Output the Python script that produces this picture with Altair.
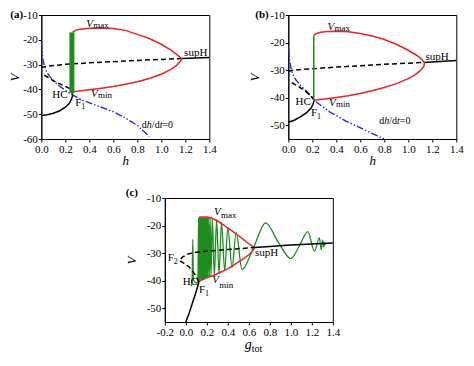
import altair as alt
import pandas as pd

SERIF = "Liberation Serif"
RED = "#e3242b"
BLUE = "#1f2bd1"
GREEN = "#1e8c1e"
BLACK = "#000000"

# ---------------- panel (a) ----------------
a_lower_h = [0.0, 0.05, 0.1, 0.15, 0.2, 0.23, 0.245, 0.255, 0.262]
a_lower_v = [-50.5, -50.2, -49.6, -48.7, -47.2, -45.8, -44.6, -43.4, -42.5]
a_mid_h = [0.262, 0.25, 0.2, 0.12, 0.05, 0.0]
a_mid_v = [-42.5, -40.0, -38.8, -37.0, -35.0, -33.5]
a_up_h = [0.0, 0.05, 0.2, 0.4, 0.6, 0.8, 1.0, 1.17]
a_up_v = [-31.2, -30.6, -29.9, -29.3, -28.8, -28.3, -27.9, -27.5]
a_st_h = [1.17, 1.4]
a_st_v = [-27.5, -27.1]
a_null_h = [0.0, 0.005, 0.012, 0.025, 0.05, 0.1, 0.16, 0.25, 0.35, 0.5, 0.6, 0.7, 0.8, 0.9]
a_null_v = [-21.0, -24.0, -27.5, -30.5, -33.5, -36.5, -39.0, -42.0, -44.5, -47.2, -49.0, -51.5, -54.5, -59.0]
a_red_h = [0.26, 0.28, 0.32, 0.4, 0.5, 0.6, 0.7, 0.8, 0.9, 1.0, 1.08, 1.13, 1.155, 1.168,
           1.16, 1.13, 1.08, 1.0, 0.9, 0.8, 0.7, 0.6, 0.5, 0.4, 0.3, 0.26]
a_red_v = [-17.0, -16.3, -15.7, -15.3, -15.2, -15.4, -16.2, -17.8, -19.5, -21.8, -24.2, -26.0, -27.0, -27.6,
           -28.6, -30.2, -31.9, -33.9, -35.6, -36.9, -37.9, -38.8, -39.5, -40.1, -40.7, -41.0]
a_grn_h = [0.255]
a_grn_top = [-17.0]
a_grn_bot = [-41.5]

# ---------------- panel (b) ----------------
b_lower_h = [0.0, 0.05, 0.1, 0.15, 0.19, 0.205, 0.215]
b_lower_v = [-48.9, -48.2, -47.0, -45.5, -43.8, -42.5, -41.0]
b_mid_h = [0.215, 0.19, 0.14, 0.08, 0.03, 0.0]
b_mid_v = [-41.0, -39.4, -37.6, -35.8, -34.6, -34.2]
b_up_h = [0.0, 0.05, 0.2, 0.4, 0.6, 0.8, 1.0, 1.13]
b_up_v = [-30.4, -30.0, -29.5, -28.9, -28.4, -27.9, -27.5, -27.2]
b_st_h = [1.13, 1.4]
b_st_v = [-27.2, -26.5]
b_null_h = [0.0, 0.005, 0.012, 0.025, 0.05, 0.1, 0.15, 0.23, 0.35, 0.48, 0.65, 0.8]
b_null_v = [-21.5, -24.0, -27.0, -30.0, -32.8, -35.5, -37.6, -41.5, -45.3, -48.5, -52.0, -55.0]
b_red_h = [0.21, 0.23, 0.27, 0.33, 0.4, 0.5, 0.6, 0.7, 0.8, 0.9, 1.0, 1.07, 1.11, 1.135,
           1.13, 1.1, 1.05, 1.0, 0.9, 0.8, 0.7, 0.6, 0.5, 0.4, 0.3, 0.21]
b_red_v = [-17.4, -16.8, -16.3, -16.0, -15.9, -16.1, -16.7, -17.6, -18.9, -20.6, -22.8, -24.6, -26.0, -27.3,
           -28.6, -30.2, -31.9, -33.1, -34.9, -36.3, -37.5, -38.5, -39.3, -39.9, -40.5, -40.9]
b_grn_h = [0.212]
b_grn_top = [-17.4]
b_grn_bot = [-41.0]

# ---------------- panel (c) ----------------
c_lower_g = [0.0, 0.03, 0.06, 0.09, 0.11, 0.125]
c_lower_v = [-55.0, -52.0, -48.5, -45.0, -42.5, -40.5]
c_mid_g = [0.125, 0.1, 0.07, 0.03, -0.02, -0.062, -0.03, 0.02, 0.1, 0.2, 0.3, 0.4, 0.5, 0.65]
c_mid_v = [-40.5, -38.5, -36.8, -35.0, -33.6, -32.7, -31.4, -30.3, -29.7, -29.3, -29.0, -28.7, -28.4, -28.0]
c_st_g = [0.65, 0.8, 1.0, 1.2, 1.4]
c_st_v = [-28.0, -27.6, -27.1, -26.7, -26.3]
c_red_g = [0.125, 0.15, 0.2, 0.24, 0.28, 0.32, 0.36, 0.4, 0.45, 0.5, 0.55, 0.6, 0.63, 0.655,
           0.63, 0.6, 0.55, 0.5, 0.45, 0.4, 0.35, 0.3, 0.25, 0.2, 0.15, 0.125]
c_red_v = [-17.0, -16.9, -16.9, -17.2, -17.9, -18.8, -19.8, -20.9, -22.2, -23.6, -25.1, -26.6, -27.4, -28.0,
           -29.6, -30.6, -32.0, -33.3, -34.5, -35.6, -36.6, -37.5, -38.3, -39.0, -39.8, -40.3]
c_grn_g = [0.05, 0.06, 0.066, 0.072, 0.09, 0.115,
           0.122, 0.126, 0.13, 0.134, 0.138, 0.142, 0.146, 0.15, 0.154, 0.158, 0.162, 0.166,
           0.17, 0.174, 0.178, 0.182, 0.186, 0.191, 0.196, 0.201, 0.206, 0.212, 0.218, 0.225,
           0.232, 0.24, 0.252, 0.272, 0.293, 0.316, 0.34, 0.37, 0.40, 0.44, 0.48, 0.535,
           0.645, 0.76, 0.88, 1.0, 1.08, 1.162, 1.225, 1.272, 1.29, 1.303, 1.315, 1.322, 1.33]
c_grn_v = [-42.0, -40.8, -25.0, -39.8, -40.6, -40.8,
           -17.1, -40.2, -17.0, -40.0, -17.0, -39.9, -17.0, -39.8, -17.0, -39.6, -17.0, -39.5,
           -17.0, -39.4, -17.0, -39.2, -17.0, -39.1, -17.0, -38.9, -17.0, -38.8, -17.1, -38.6,
           -17.1, -38.4, -17.3, -38.0, -17.9, -37.3, -18.9, -36.4, -20.8, -35.2, -22.6, -36.0,
           -28.0, -19.0, -26.0, -32.0, -27.5, -22.2, -29.3, -24.5, -28.8, -25.3, -27.8, -26.2, -27.0]

# tick values
ab_xticks = [0.0, 0.2, 0.4, 0.6, 0.8, 1.0, 1.2, 1.4]
c_xticks = [-0.2, 0.0, 0.2, 0.4, 0.6, 0.8, 1.0, 1.2, 1.4]
a_yticks = [-60, -50, -40, -30, -20, -10]
bc_yticks = [-50, -40, -30, -20, -10]

# annotation labels: (text, x, y, size, italic, dx, dy)
a_labels = [("V", 0.375, -14.9, 11, True, 0, 0), ("max", 0.375, -14.9, 9, False, 7, 1),
            ("supH", 1.19, -26.6, 11, False, 0, 0),
            ("V", 0.415, -42.9, 11, True, 0, 0), ("min", 0.415, -42.9, 9, False, 7, 1),
            ("HC", 0.092, -43.6, 11, False, 0, 0),
            ("F", 0.282, -46.8, 11, False, 0, 0), ("1", 0.282, -46.8, 8, False, 6, 3),
            ("d", 0.838, -55.7, 10, False, 0, 0), ("h", 0.838, -55.7, 10, True, 5, 0),
            ("/d", 0.838, -55.7, 10, False, 10, 0), ("t", 0.838, -55.7, 10, True, 17.8, 0),
            ("=0", 0.838, -55.7, 10, False, 20.6, 0)]
b_labels = [("V", 0.326, -15.4, 11, True, 0, 0), ("max", 0.326, -15.4, 9, False, 7, 1),
            ("supH", 1.143, -26.2, 11, False, 0, 0),
            ("V", 0.34, -43.0, 11, True, 0, 0), ("min", 0.34, -43.0, 9, False, 7, 1),
            ("HC", 0.06, -42.5, 11, False, 0, 0),
            ("F", 0.19, -46.6, 11, False, 0, 0), ("1", 0.19, -46.6, 8, False, 6, 3),
            ("d", 0.758, -49.7, 10, False, 0, 0), ("h", 0.758, -49.7, 10, True, 5, 0),
            ("/d", 0.758, -49.7, 10, False, 10, 0), ("t", 0.758, -49.7, 10, True, 17.8, 0),
            ("=0", 0.758, -49.7, 10, False, 20.6, 0)]
c_labels = [("V", 0.268, -16.3, 11, True, 0, 0), ("max", 0.268, -16.3, 9, False, 7, 3),
            ("supH", 0.659, -31.1, 11, False, 0, 0),
            ("V", 0.252, -40.9, 11, True, 0, 0), ("min", 0.252, -40.9, 9, False, 7, 5),
            ("HC", -0.03, -41.7, 11, False, 0, 0),
            ("F", 0.126, -44.3, 11, False, 0, 0), ("1", 0.126, -44.3, 8, False, 6, 3),
            ("F", -0.172, -32.7, 11, False, 0, 0), ("2", -0.172, -32.7, 8, False, 6, 3)]

W, H1, H2 = 168, 124, 124
MINUS = "replace(datum.label, '\u2212', '-')"


class Panel:
    def __init__(self, xdom, ydom, xticks, yticks, xtitle, ytitle_pad):
        self.xsc = alt.Scale(domain=xdom, nice=False, zero=False)
        self.ysc = alt.Scale(domain=ydom, nice=False, zero=False)
        xkw = dict(values=xticks, format=".1f", labelExpr=MINUS, titlePadding=0,
                   title=xtitle if xtitle else "")
        self.xax = alt.Axis(**xkw)
        self.yax = alt.Axis(values=yticks, format="d", labelExpr=MINUS, title="V",
                            titlePadding=ytitle_pad)
        self.layers = []

    def X(self, f="x"):
        return alt.X(f + ":Q", scale=self.xsc, axis=self.xax)

    def Y(self, f="y"):
        return alt.Y(f + ":Q", scale=self.ysc, axis=self.yax)

    def line(self, xs, ys, color, width=1.5, dash=None, interp="linear"):
        df = pd.DataFrame({"x": xs, "y": ys, "i": list(range(len(xs)))})
        kw = dict(color=color, strokeWidth=width, interpolate=interp, clip=True)
        if dash:
            kw["strokeDash"] = dash
        self.layers.append(alt.Chart(df).mark_line(**kw).encode(
            x=self.X(), y=self.Y(), order="i:Q"))

    def rule(self, xs, top, bot, color, width):
        df = pd.DataFrame({"x": xs, "y": top, "y2": bot})
        self.layers.append(alt.Chart(df).mark_rule(color=color, strokeWidth=width).encode(
            x=self.X(), y=self.Y(), y2="y2:Q"))

    def labels(self, items):
        for (t, x, y, size, italic, dx, dy) in items:
            df = pd.DataFrame({"x": [x], "y": [y], "t": [t]})
            self.layers.append(alt.Chart(df).mark_text(
                align="left", baseline="alphabetic", font=SERIF, fontSize=size,
                fontStyle="italic" if italic else "normal", dx=dx, dy=dy, color="black"
            ).encode(x=self.X(), y=self.Y(), text="t:N"))

    def pixtext(self, t, px, py, size, italic=False, bold=False):
        df = pd.DataFrame({"t": [t]})
        self.layers.append(alt.Chart(df).mark_text(
            align="left", baseline="alphabetic", font=SERIF, fontSize=size,
            fontStyle="italic" if italic else "normal",
            fontWeight="bold" if bold else "normal", color="black"
        ).encode(x=alt.value(px), y=alt.value(py), text="t:N"))

    def chart(self, w, h):
        return alt.layer(*self.layers).properties(width=w, height=h)


DASH = [5, 3]
DASHDOT = [7, 2, 1.5, 2, 1.5, 2]

# panel (a)
pa = Panel([0, 1.4], [-60, -10], ab_xticks, a_yticks, "h", 1)
pa.line(a_null_h, a_null_v, BLUE, 1.4, DASHDOT)
pa.line(a_lower_h, a_lower_v, BLACK, 1.5)
pa.line(a_mid_h, a_mid_v, BLACK, 1.5, DASH)
pa.line(a_up_h, a_up_v, BLACK, 1.5, DASH)
pa.line(a_st_h, a_st_v, BLACK, 1.5)
pa.line(a_red_h, a_red_v, RED, 1.5)
pa.rule(a_grn_h, a_grn_top, a_grn_bot, GREEN, 5)
pa.labels(a_labels)
pa.pixtext("(a)", -31, 3, 11, bold=True)
A = pa.chart(W, H1)

# panel (b)
pb = Panel([0, 1.4], [-55, -10], ab_xticks, bc_yticks, "h", 8)
pb.line(b_null_h, b_null_v, BLUE, 1.4, DASHDOT)
pb.line(b_lower_h, b_lower_v, BLACK, 1.5)
pb.line(b_mid_h, b_mid_v, BLACK, 1.5, DASH)
pb.line(b_up_h, b_up_v, BLACK, 1.5, DASH)
pb.line(b_st_h, b_st_v, BLACK, 1.5)
pb.line(b_red_h, b_red_v, RED, 1.5)
pb.rule(b_grn_h, b_grn_top, b_grn_bot, GREEN, 1.5)
pb.labels(b_labels)
pb.pixtext("(b)", -33, 3, 11, bold=True)
B = pb.chart(W, H1)

# panel (c)
pc = Panel([-0.2, 1.4], [-55, -10], c_xticks, bc_yticks, None, 8)
pc.line(c_grn_g, c_grn_v, GREEN, 1.3, None, "monotone")
pc.line(c_red_g, c_red_v, RED, 1.5)
pc.line(c_lower_g, c_lower_v, BLACK, 1.5)
pc.line(c_mid_g, c_mid_v, BLACK, 1.5, DASH)
pc.line(c_st_g, c_st_v, BLACK, 1.5)
pc.labels(c_labels)
pc.pixtext("(c)", -39, -2, 11, bold=True)
pc.pixtext("g", 80, H2 + 27, 14, italic=True)
pc.pixtext("tot", 87, H2 + 30, 10, italic=False)
C = pc.chart(W, H2)

top = alt.hconcat(A, B, spacing=30)
chart = alt.vconcat(top, C, spacing=18, center=True).properties(
    padding={"left": 0, "top": 0, "right": 0, "bottom": 0}
).configure_axis(
    labelFont=SERIF, labelFontSize=11, labelColor="black",
    titleFont=SERIF, titleFontSize=13, titleFontStyle="italic", titleFontWeight="normal",
    titleColor="black", tickSize=3, tickColor="black", domainColor="black",
    labelPadding=1, grid=False, labelFlush=False
).configure_view(stroke="black", strokeWidth=1)

chart.save("out.html", embed_options={"renderer": "svg", "actions": False})
